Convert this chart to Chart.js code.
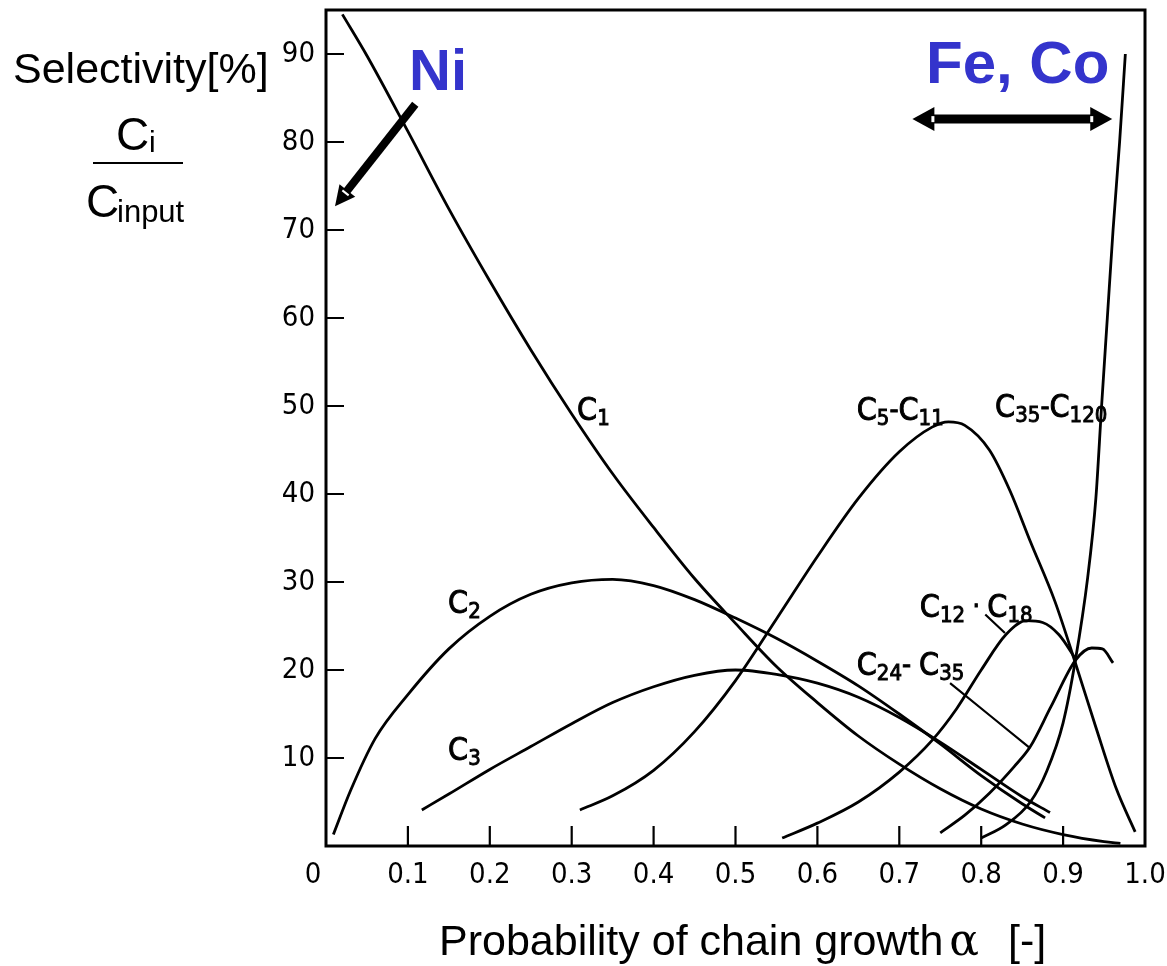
<!DOCTYPE html>
<html><head><meta charset="utf-8">
<script src="https://cdn.jsdelivr.net/npm/chart.js@4/dist/chart.umd.min.js"></script>
<style>html,body{margin:0;padding:0;background:#fff;overflow:hidden}</style>
</head><body>
<canvas id="c" width="1167" height="966" style="width:1167px;height:966px;display:block"></canvas>
<script>
// ---- tick values / labels ----
const xTickValues = [0, 0.1, 0.2, 0.3, 0.4, 0.5, 0.6, 0.7, 0.8, 0.9, 1.0];
const xTickLabels = ['0', '0.1', '0.2', '0.3', '0.4', '0.5', '0.6', '0.7', '0.8', '0.9', '1.0'];
const yTickValues = [10, 20, 30, 40, 50, 60, 70, 80, 90];
const yTickLabels = ['10', '20', '30', '40', '50', '60', '70', '80', '90'];

// ---- series (alpha, selectivity %) ----
const c1Alpha = [0.02, 0.05, 0.1, 0.15, 0.2, 0.25, 0.3, 0.35, 0.4, 0.45, 0.5, 0.55, 0.6, 0.65, 0.7, 0.75, 0.8, 0.85, 0.9, 0.95, 0.97];
const c1Sel   = [94.5, 89.8, 81.2, 72.4, 64.2, 56.4, 49.1, 42.3, 36.2, 30.4, 25.3, 20.4, 16.3, 12.5, 9.3, 6.5, 4.2, 2.5, 1.3, 0.5, 0.3];

const c2Alpha = [0.009, 0.03, 0.06, 0.1, 0.15, 0.2, 0.25, 0.3, 0.35, 0.4, 0.45, 0.5, 0.55, 0.6, 0.65, 0.7, 0.75, 0.8, 0.85, 0.878];
const c2Sel   = [1.3, 6.3, 12.2, 17.2, 22.4, 26.1, 28.6, 29.9, 30.3, 29.6, 28.0, 25.9, 23.6, 21.0, 18.2, 15.0, 11.6, 8.0, 4.8, 3.2];

const c3Alpha = [0.117, 0.15, 0.2, 0.25, 0.3, 0.35, 0.4, 0.45, 0.5, 0.55, 0.6, 0.65, 0.7, 0.75, 0.8, 0.85, 0.884];
const c3Sel   = [4.1, 5.9, 8.7, 11.3, 13.9, 16.3, 18.1, 19.4, 20.0, 19.5, 18.5, 16.9, 14.6, 11.8, 8.7, 5.6, 3.8];

const c5c11Alpha = [0.31, 0.35, 0.4, 0.45, 0.5, 0.55, 0.6, 0.65, 0.7, 0.74, 0.76, 0.78, 0.81, 0.835, 0.86, 0.89, 0.915, 0.94, 0.965, 0.988];
const c5c11Sel   = [4.1, 5.7, 8.6, 13.0, 18.8, 25.8, 32.9, 39.5, 44.8, 47.6, 48.2, 47.8, 45.0, 40.4, 34.6, 27.8, 20.8, 13.5, 6.5, 1.6];

const c12c18Alpha = [0.557, 0.6, 0.65, 0.7, 0.74, 0.77, 0.8, 0.83, 0.855, 0.875, 0.895, 0.915];
const c12c18Sel   = [0.9, 2.6, 5.0, 8.4, 12.0, 15.6, 20.0, 24.0, 25.6, 25.4, 24.0, 21.3];

const c24c35Alpha = [0.75, 0.78, 0.81, 0.84, 0.86, 0.885, 0.915, 0.935, 0.948, 0.961];
const c24c35Sel   = [1.5, 3.5, 6.0, 9.0, 11.3, 15.8, 21.1, 22.5, 22.4, 20.8];

const c35c120Alpha = [0.80, 0.83, 0.86, 0.88, 0.90, 0.915, 0.93, 0.94, 0.947, 0.954, 0.961, 0.969, 0.976];
const c35c120Sel   = [0.9, 2.4, 5.0, 8.5, 14.0, 21.1, 30.5, 39.5, 50.0, 60.0, 70.0, 80.0, 90.0];

// label leader lines
const c12LeaderAlpha = [0.805, 0.829];
const c12LeaderSel   = [26.3, 24.2];
const c24LeaderAlpha = [0.762, 0.860];
const c24LeaderSel   = [18.5, 11.1];

const TECH = "'DejaVu Sans Condensed','Liberation Sans Narrow','DejaVu Sans',sans-serif";
const SANS = "'Liberation Sans','Arimo',Arial,sans-serif";
const BLUE = '#3434cc';

function pts(a, v) { return a.map((x, i) => ({ x: x, y: v[i] })); }
function curve(a, v, w) {
  return { data: pts(a, v), borderColor: '#000', borderWidth: w || 2.8, pointRadius: 0,
           fill: false, cubicInterpolationMode: 'monotone' };
}

function drawParts(ctx, x, y, parts) {
  let cx = x;
  ctx.textBaseline = 'alphabetic';
  ctx.textAlign = 'left';
  ctx.lineWidth = 0.9;
  ctx.strokeStyle = '#000';
  for (const [t, size, dy] of parts) {
    ctx.font = size + 'px ' + TECH;
    ctx.fillText(t, cx, y + dy);
    ctx.strokeText(t, cx, y + dy);
    cx += ctx.measureText(t).width;
  }
}

function arrowHead(ctx, tx, ty, ang, len, half) {
  ctx.beginPath();
  ctx.moveTo(tx, ty);
  ctx.lineTo(tx - len * Math.cos(ang) + half * Math.sin(ang), ty - len * Math.sin(ang) - half * Math.cos(ang));
  ctx.lineTo(tx - len * Math.cos(ang) - half * Math.sin(ang), ty - len * Math.sin(ang) + half * Math.cos(ang));
  ctx.closePath();
  ctx.fill();
}

const decor = {
  id: 'decor',
  afterDraw(chart) {
    const ctx = chart.ctx, xs = chart.scales.x, ys = chart.scales.y, ca = chart.chartArea;
    const X = v => xs.getPixelForValue(v), Y = v => ys.getPixelForValue(v);
    ctx.save();
    // frame
    ctx.strokeStyle = '#000';
    ctx.lineWidth = 3;
    ctx.strokeRect(ca.left, ca.top, ca.right - ca.left, ca.bottom - ca.top);
    // inward ticks
    ctx.lineWidth = 2.2;
    ctx.beginPath();
    for (const v of yTickValues) { ctx.moveTo(ca.left, Y(v)); ctx.lineTo(ca.left + 18, Y(v)); }
    for (const v of xTickValues.slice(1, -1)) { ctx.moveTo(X(v), ca.bottom); ctx.lineTo(X(v), ca.bottom - 20); }
    ctx.stroke();

    // curve labels (anchored in data coordinates)
    ctx.fillStyle = '#000';
    drawParts(ctx, X(0.3065), Y(48.4), [['C', 32, 0], ['1', 22, 5]]);
    drawParts(ctx, X(0.149), Y(26.5), [['C', 32, 0], ['2', 22, 5]]);
    drawParts(ctx, X(0.149), Y(9.8), [['C', 32, 0], ['3', 22, 5]]);
    drawParts(ctx, X(0.648), Y(48.4), [['C', 32, 0], ['5', 22, 5], ['-', 28, -1], ['C', 32, 0], ['11', 22, 5]]);
    drawParts(ctx, X(0.817), Y(48.7), [['C', 32, 0], ['35', 22, 5], ['-', 28, -1], ['C', 32, 0], ['120', 22, 5]]);
    drawParts(ctx, X(0.725), Y(26.0), [['C', 32, 0], ['12', 22, 5], [' · ', 26, -2], ['C', 32, 0], ['18', 22, 5]]);
    drawParts(ctx, X(0.648), Y(19.4), [['C', 32, 0], ['24', 22, 5], ['- ', 28, -1], ['C', 32, 0], ['35', 22, 5]]);

    // Ni arrow
    ctx.fillStyle = '#000';
    ctx.strokeStyle = '#000';
    const nx0 = X(0.109), ny0 = Y(84.3), ntx = X(0.011), nty = Y(72.7);
    const na = Math.atan2(nty - ny0, ntx - nx0);
    ctx.lineWidth = 8;
    ctx.lineCap = 'butt';
    ctx.beginPath();
    ctx.moveTo(nx0, ny0);
    ctx.lineTo(ntx - 18 * Math.cos(na), nty - 18 * Math.sin(na));
    ctx.stroke();
    arrowHead(ctx, ntx, nty, na, 20, 10);
    ctx.strokeStyle = '#fff';
    ctx.lineWidth = 2;
    ctx.beginPath();
    ctx.moveTo(ntx - 17 * Math.cos(na) + 4 * Math.sin(na), nty - 17 * Math.sin(na) - 4 * Math.cos(na));
    ctx.lineTo(ntx - 17 * Math.cos(na) - 4 * Math.sin(na), nty - 17 * Math.sin(na) + 4 * Math.cos(na));
    ctx.stroke();

    // Fe, Co double arrow
    const fx0 = X(0.716), fx1 = X(0.960), fy = Y(82.6);
    ctx.strokeStyle = '#000';
    ctx.lineWidth = 9;
    ctx.beginPath();
    ctx.moveTo(fx0 + 20, fy); ctx.lineTo(fx1 - 20, fy);
    ctx.stroke();
    arrowHead(ctx, fx0, fy, Math.PI, 22, 12);
    arrowHead(ctx, fx1, fy, 0, 22, 12);
    ctx.fillStyle = '#fff';
    ctx.fillRect(fx0 + 19, fy - 3, 3, 6);
    ctx.fillRect(fx1 - 22, fy - 3, 3, 6);

    // blue annotations
    ctx.fillStyle = BLUE;
    ctx.textAlign = 'left';
    ctx.textBaseline = 'alphabetic';
    ctx.font = 'bold 58px ' + SANS;
    ctx.fillText('Ni', 409, 90);
    ctx.font = 'bold 60px ' + SANS;
    ctx.fillText('Fe, Co', 926, 83);

    // y-axis title and fraction
    ctx.fillStyle = '#000';
    ctx.font = '43px ' + SANS;
    ctx.fillText('Selectivity[%]', 13, 83);
    ctx.font = '46px ' + SANS;
    ctx.fillText('C', 116, 150);
    ctx.font = '30px ' + SANS;
    ctx.fillText('i', 149, 152);
    ctx.fillRect(93, 162, 90, 2);
    ctx.font = '46px ' + SANS;
    ctx.fillText('C', 86, 217);
    ctx.font = '31px ' + SANS;
    ctx.fillText('input', 117, 222);

    // x-axis title
    ctx.font = '43px ' + SANS;
    const t1 = 'Probability of chain growth';
    ctx.fillText(t1, 439, 955);
    const ax = 439 + ctx.measureText(t1).width + 6;
    ctx.font = '44px ' + "'DejaVu Serif','Liberation Serif',serif";
    ctx.fillText('\u03B1', ax, 955);
    ctx.font = '43px ' + SANS;
    ctx.fillText('[-]', Math.max(ax + 40, 1008), 955);
    ctx.restore();
  }
};

Chart.defaults.color = '#000';
new Chart(document.getElementById('c'), {
  type: 'line',
  data: {
    datasets: [
      curve(c1Alpha, c1Sel), curve(c2Alpha, c2Sel), curve(c3Alpha, c3Sel),
      curve(c5c11Alpha, c5c11Sel), curve(c12c18Alpha, c12c18Sel),
      curve(c24c35Alpha, c24c35Sel), curve(c35c120Alpha, c35c120Sel),
      curve(c12LeaderAlpha, c12LeaderSel, 2.2), curve(c24LeaderAlpha, c24LeaderSel, 2.2)
    ]
  },
  options: {
    responsive: false,
    animation: false,
    devicePixelRatio: 1,
    layout: { padding: { top: 10, right: 22, left: 0, bottom: 0 } },
    plugins: { legend: { display: false }, tooltip: { enabled: false } },
    scales: {
      x: {
        type: 'linear', min: 0, max: 1,
        afterBuildTicks: s => { s.ticks = xTickValues.map(v => ({ value: v })); },
        afterFit: s => { s.height = 120; s.paddingLeft = 0; s.paddingRight = 0; },
        grid: { display: false, drawTicks: false },
        border: { display: false },
        ticks: { autoSkip: false, maxRotation: 0, padding: 12,
                 font: { family: TECH, size: 29 },
                 callback: (v, i) => i === 0 ? xTickLabels[0] + '\u2003' : xTickLabels[i] }
      },
      y: {
        type: 'linear', min: 0, max: 95,
        afterBuildTicks: s => { s.ticks = yTickValues.map(v => ({ value: v })); },
        afterFit: s => { s.width = 326; s.paddingTop = 0; s.paddingBottom = 0; },
        grid: { display: false, drawTicks: false },
        border: { display: false },
        ticks: { autoSkip: false, padding: 11,
                 font: { family: TECH, size: 29 },
                 callback: (v, i) => yTickLabels[i] }
      }
    }
  },
  plugins: [decor]
});
</script>
</body></html>
